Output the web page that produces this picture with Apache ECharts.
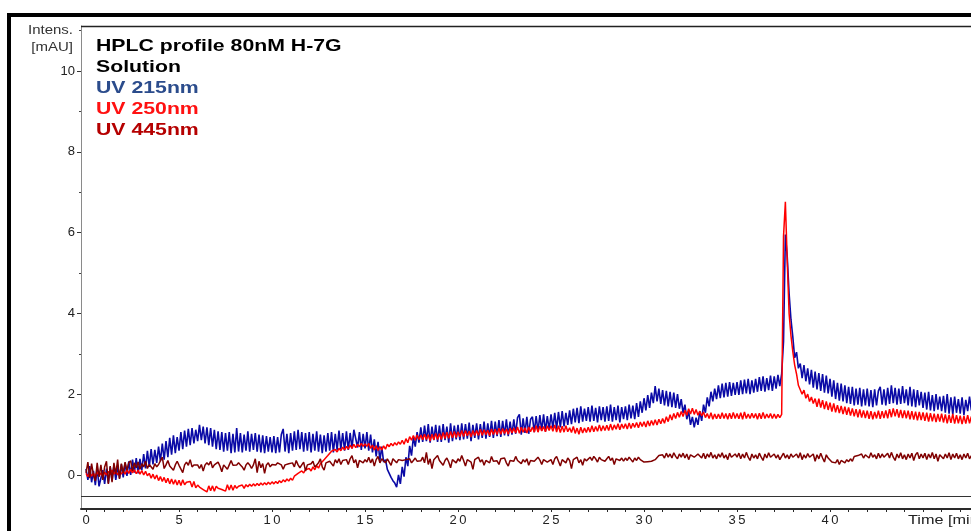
<!DOCTYPE html>
<html>
<head>
<meta charset="utf-8">
<script src="https://cdn.jsdelivr.net/npm/echarts@6/dist/echarts.min.js"></script>
<style>
  html, body { margin: 0; padding: 0; background: #fff; }
  #chart { width: 971px; height: 531px; }
</style>
</head>
<body>
<div id="chart"></div>
<script>
// Detector readings: one sample every 0.1 min starting at 0 min.
const T0 = 0;
const DT = 0.1;

// UV 215nm trace [mAU], one row per minute
const uv215 = [
  0.15, -0.12, 0.22, -0.18, 0.1, -0.25, 0.18, -0.28, -0.32, 0.12,
  -0.22, 0.16, -0.2, 0.2, -0.14, 0.24, -0.12, 0.22, -0.08, 0.26,
  -0.06, 0.3, -0.02, 0.34, 0.0, 0.38, 0.06, 0.42, 0.04, 0.4,
  0.12, 0.52, 0.16, 0.6, 0.2, 0.64, 0.26, 0.62, 0.3, 0.7,
  0.34, 0.78, 0.38, 0.84, 0.44, 0.92, 0.5, 0.98, 0.54, 0.94,
  0.6, 1.06, 0.64, 1.1, 0.7, 1.14, 0.74, 1.16, 0.78, 1.12,
  0.84, 1.24, 0.86, 1.2, 0.78, 1.18, 0.74, 1.16, 0.7, 1.12,
  0.64, 1.08, 0.62, 1.06, 0.58, 1.04, 0.6, 1.06, 0.54, 1.02,
  0.56, 1.16, 0.58, 1.04, 0.56, 1.0, 0.6, 1.08, 0.58, 1.02,
  0.62, 1.04, 0.58, 1.0, 0.56, 0.98, 0.54, 0.96, 0.58, 0.94,
  0.56, 0.96, 0.54, 0.94, 0.56, 1.0, 1.14, 0.58, 1.02, 0.54,
  1.04, 0.6, 1.08, 0.62, 1.12, 0.64, 1.06, 0.58, 1.04, 0.6,
  1.06, 0.56, 1.02, 0.6, 1.08, 0.58, 1.0, 0.54, 0.98, 0.58,
  1.04, 0.6, 1.06, 0.56, 1.02, 0.62, 1.1, 0.64, 1.04, 0.6,
  1.08, 0.62, 1.04, 0.66, 1.12, 1.16, 0.68, 1.06, 0.62, 1.02,
  0.66, 1.06, 0.6, 1.0, 0.56, 0.88, 0.46, 0.82, 0.36, 0.7,
  0.32, 0.38, 0.14, 0.14, -0.06, -0.14, -0.2, -0.3, 0.0, -0.22,
  0.2, -0.04, 0.44, 0.22, 0.72, 0.48, 0.94, 0.7, 1.06, 0.8,
  1.18, 0.82, 1.22, 0.84, 1.26, 0.8, 1.2, 0.86, 1.24, 0.82,
  1.22, 0.82, 1.26, 0.86, 1.2, 0.8, 1.28, 0.84, 1.22, 0.88,
  1.24, 0.86, 1.28, 0.88, 1.26, 0.9, 1.3, 0.84, 1.24, 0.92,
  1.28, 0.88, 1.26, 0.92, 1.32, 0.9, 1.28, 0.94, 1.34, 0.92,
  1.32, 0.96, 1.36, 0.94, 1.34, 0.98, 1.38, 0.96, 1.32, 1.0,
  1.38, 1.02, 1.42, 1.5, 1.0, 1.4, 1.04, 1.44, 1.02, 1.38,
  1.44, 1.06, 1.46, 1.08, 1.48, 1.1, 1.5, 1.08, 1.46, 1.12,
  1.5, 1.16, 1.54, 1.14, 1.56, 1.18, 1.58, 1.2, 1.54, 1.24,
  1.6, 1.26, 1.64, 1.3, 1.66, 1.28, 1.7, 1.32, 1.64, 1.34,
  1.68, 1.32, 1.72, 1.34, 1.66, 1.3, 1.7, 1.36, 1.68, 1.32,
  1.7, 1.34, 1.74, 1.32, 1.68, 1.36, 1.72, 1.3, 1.68, 1.38,
  1.7, 1.36, 1.74, 1.4, 1.72, 1.38, 1.78, 1.44, 1.82, 1.54,
  1.9, 1.6, 1.98, 1.66, 2.04, 1.78, 2.2, 1.82, 2.14, 1.76,
  2.1, 1.72, 2.08, 1.7, 2.06, 1.68, 2.04, 1.66, 2.0, 1.64,
  1.88, 1.54, 1.74, 1.38, 1.58, 1.24, 1.44, 1.18, 1.42, 1.24,
  1.58, 1.34, 1.74, 1.54, 1.92, 1.7, 2.06, 1.82, 2.14, 1.88,
  2.22, 1.9, 2.26, 1.92, 2.28, 1.94, 2.3, 1.96, 2.28, 1.98,
  2.3, 1.98, 2.34, 2.0, 2.36, 2.02, 2.38, 2.0, 2.34, 2.04,
  2.38, 2.06, 2.42, 2.08, 2.44, 2.06, 2.4, 2.1, 2.46, 2.08,
  2.44, 2.14, 2.48, 2.2, 2.5, 3.3, 5.95, 5.4, 4.5, 3.85,
  3.42, 2.9, 3.04, 2.64, 2.76, 2.4, 2.72, 2.32, 2.64, 2.24,
  2.6, 2.16, 2.56, 2.12, 2.52, 2.08, 2.5, 2.04, 2.46, 2.02,
  2.38, 1.94, 2.34, 1.88, 2.28, 1.84, 2.26, 1.82, 2.22, 1.78,
  2.18, 1.76, 2.18, 1.72, 2.14, 1.74, 2.16, 1.7, 2.12, 1.72,
  2.14, 1.7, 2.1, 1.68, 2.12, 1.72, 2.08, 2.18, 1.74, 2.12,
  1.72, 2.16, 1.76, 2.22, 1.78, 2.16, 1.74, 2.14, 1.76, 2.2,
  1.78, 2.12, 1.72, 2.18, 1.7, 2.12, 1.68, 2.1, 1.72, 2.06,
  1.66, 2.04, 1.62, 2.06, 1.6, 1.98, 1.58, 2.0, 1.62, 1.94,
  1.58, 1.96, 1.54, 2.0, 1.52, 1.92, 1.5, 1.94, 1.54, 1.88,
  1.52, 1.92, 1.48, 1.86, 1.58, 1.94, 1.6
];

// UV 250nm trace [mAU]
const uv250 = [
  0.04, -0.04, 0.06, -0.03, 0.05, -0.06, 0.08, -0.02, 0.05, -0.04,
  0.07, 0.0, 0.09, 0.01, 0.12, 0.02, 0.1, 0.0, 0.09, 0.02,
  0.1, 0.02, 0.13, 0.04, 0.14, 0.05, 0.13, 0.03, 0.12, 0.02,
  0.11, 0.0, 0.09, -0.02, 0.04, -0.08, 0.02, -0.1, 0.0, -0.14,
  -0.04, -0.16, -0.06, -0.19, -0.08, -0.22, -0.1, -0.23, -0.12, -0.25,
  -0.13, -0.26, -0.12, -0.24, -0.18, -0.22, -0.16, -0.3, -0.16, -0.32,
  -0.25, -0.3, -0.3, -0.36, -0.32, -0.42, -0.27, -0.39, -0.27, -0.4,
  -0.28, -0.33, -0.3, -0.36, -0.32, -0.4, -0.24, -0.37, -0.25, -0.38,
  -0.26, -0.33, -0.28, -0.3, -0.25, -0.33, -0.24, -0.29, -0.23, -0.28,
  -0.22, -0.27, -0.21, -0.26, -0.2, -0.25, -0.19, -0.24, -0.18, -0.23,
  -0.17, -0.22, -0.16, -0.21, -0.14, -0.19, -0.12, -0.17, -0.1, -0.15,
  -0.08, -0.13, -0.03, -0.07, 0.04, 0.0, 0.1, 0.05, 0.13, 0.09,
  0.16, 0.1, 0.2, 0.13, 0.23, 0.17, 0.28, 0.25, 0.38, 0.36,
  0.48, 0.46, 0.59, 0.55, 0.63, 0.57, 0.66, 0.6, 0.69, 0.62,
  0.71, 0.64, 0.74, 0.66, 0.76, 0.68, 0.76, 0.7, 0.78, 0.71,
  0.77, 0.71, 0.78, 0.66, 0.74, 0.62, 0.72, 0.61, 0.7, 0.62,
  0.72, 0.64, 0.76, 0.7, 0.78, 0.72, 0.8, 0.74, 0.82, 0.76,
  0.86, 0.76, 0.9, 0.8, 0.95, 0.86, 0.98, 0.86, 0.99, 0.88,
  0.99, 0.87, 1.01, 0.88, 1.0, 0.84, 1.01, 0.87, 1.03, 0.88,
  1.02, 0.88, 1.05, 0.9, 1.06, 0.91, 1.08, 0.92, 1.08, 0.93,
  1.07, 0.95, 1.1, 0.95, 1.1, 0.97, 1.08, 0.94, 1.1, 0.98,
  1.1, 0.98, 1.13, 0.98, 1.12, 1.0, 1.11, 0.97, 1.14, 1.0,
  1.13, 1.0, 1.16, 1.01, 1.15, 1.03, 1.14, 1.01, 1.16, 1.04,
  1.16, 1.04, 1.19, 1.03, 1.18, 1.06, 1.17, 1.04, 1.19, 1.07,
  1.19, 1.06, 1.22, 1.06, 1.21, 1.09, 1.2, 1.07, 1.22, 1.1,
  1.22, 1.08, 1.24, 1.06, 1.22, 1.05, 1.21, 1.06, 1.22, 1.07,
  1.17, 1.05, 1.2, 1.03, 1.16, 1.01, 1.18, 1.04, 1.16, 1.05,
  1.18, 1.06, 1.22, 1.07, 1.2, 1.08, 1.24, 1.09, 1.22, 1.1,
  1.23, 1.1, 1.26, 1.11, 1.24, 1.13, 1.27, 1.12, 1.26, 1.15,
  1.27, 1.14, 1.29, 1.15, 1.28, 1.18, 1.3, 1.17, 1.31, 1.2,
  1.32, 1.19, 1.34, 1.21, 1.35, 1.23, 1.37, 1.24, 1.38, 1.27,
  1.4, 1.28, 1.44, 1.32, 1.49, 1.36, 1.52, 1.4, 1.55, 1.43,
  1.57, 1.45, 1.6, 1.48, 1.64, 1.51, 1.65, 1.5, 1.62, 1.48,
  1.58, 1.46, 1.56, 1.42, 1.52, 1.4, 1.54, 1.38, 1.51, 1.39,
  1.51, 1.39, 1.54, 1.4, 1.52, 1.38, 1.53, 1.39, 1.55, 1.4,
  1.52, 1.39, 1.54, 1.38, 1.56, 1.4, 1.51, 1.4, 1.53, 1.41,
  1.52, 1.38, 1.53, 1.39, 1.55, 1.4, 1.51, 1.41, 1.52, 1.4,
  1.51, 1.4, 1.5, 1.42, 1.5, 5.9, 6.76, 5.3, 4.0, 3.45,
  3.05, 2.72, 2.5, 2.22, 2.24, 2.0, 2.1, 1.9, 2.0, 1.82,
  1.93, 1.77, 1.89, 1.69, 1.89, 1.67, 1.85, 1.63, 1.82, 1.61,
  1.79, 1.57, 1.77, 1.55, 1.73, 1.53, 1.71, 1.51, 1.69, 1.49,
  1.67, 1.47, 1.65, 1.45, 1.63, 1.43, 1.62, 1.42, 1.6, 1.41,
  1.59, 1.39, 1.58, 1.38, 1.56, 1.4, 1.59, 1.39, 1.58, 1.41,
  1.6, 1.4, 1.63, 1.43, 1.65, 1.45, 1.63, 1.42, 1.61, 1.41,
  1.6, 1.4, 1.59, 1.38, 1.58, 1.37, 1.57, 1.35, 1.56, 1.36,
  1.55, 1.34, 1.54, 1.32, 1.53, 1.33, 1.52, 1.31, 1.51, 1.32,
  1.52, 1.3, 1.5, 1.28, 1.49, 1.29, 1.51, 1.27, 1.48, 1.28,
  1.47, 1.26, 1.46, 1.27, 1.48, 1.28, 1.45
];

// UV 445nm trace [mAU]
const uv445 = [
  0.05, 0.32, -0.08, 0.28, 0.0, -0.15, 0.3, -0.05, 0.25, -0.12,
  0.2, 0.34, -0.22, 0.22, -0.18, 0.3, 0.02, 0.38, -0.1, 0.28,
  0.05, 0.32, 0.12, 0.3, 0.35, 0.1, 0.3, 0.18, 0.32, 0.14,
  0.28, 0.2, 0.34, 0.16, 0.26, 0.3, 0.14, 0.28, 0.2, 0.26,
  0.24, 0.44, 0.16, 0.25, 0.36, 0.22, 0.26, 0.12, 0.25, 0.34,
  0.24, 0.26, 0.06, 0.25, 0.32, 0.24, 0.38, 0.2, 0.25, 0.28,
  0.25, 0.16, 0.26, 0.1, 0.25, 0.3, 0.25, 0.34, 0.18, 0.25,
  0.26, 0.32, 0.22, 0.08, 0.25, 0.28, 0.14, 0.25, 0.36, 0.24,
  0.22, 0.25, 0.3, 0.25, 0.2, 0.12, 0.25, 0.3, 0.25, 0.16,
  0.25, 0.4, 0.06, 0.34, 0.18, 0.28, 0.04, 0.25, 0.3, 0.2,
  0.26, 0.22, 0.25, 0.3, 0.26, 0.25, 0.14, 0.25, 0.22, 0.28,
  0.25, 0.3, 0.2, 0.36, 0.25, 0.18, 0.25, 0.32, 0.1, 0.25,
  0.22, 0.28, 0.34, 0.2, 0.25, 0.3, 0.4, 0.2, 0.12, 0.3,
  0.28, 0.34, 0.36, 0.22, 0.38, 0.3, 0.4, 0.26, 0.36, 0.32,
  0.38, 0.26, 0.4, 0.48, 0.3, 0.38, 0.18, 0.36, 0.4, 0.3,
  0.38, 0.32, 0.44, 0.3, 0.4, 0.22, 0.38, 0.46, 0.3, 0.4,
  0.36, 0.3, 0.4, 0.36, 0.24, 0.4, 0.36, 0.3, 0.38, 0.42,
  0.36, 0.32, 0.38, 0.36, 0.4, 0.3, 0.36, 0.42, 0.34, 0.37,
  0.35, 0.44, 0.3, 0.56, 0.26, 0.4, 0.16, 0.38, 0.34, 0.48,
  0.36, 0.4, 0.24, 0.36, 0.42, 0.32, 0.18, 0.38, 0.36, 0.3,
  0.4, 0.34, 0.48, 0.36, 0.22, 0.38, 0.36, 0.32, 0.14, 0.38,
  0.34, 0.44, 0.32, 0.38, 0.24, 0.36, 0.4, 0.3, 0.46, 0.34,
  0.38, 0.35, 0.26, 0.4, 0.36, 0.42, 0.3, 0.22, 0.36, 0.4,
  0.34, 0.46, 0.36, 0.4, 0.28, 0.38, 0.32, 0.4, 0.24, 0.36,
  0.4, 0.34, 0.3, 0.44, 0.37, 0.26, 0.38, 0.4, 0.32, 0.36,
  0.38, 0.26, 0.4, 0.46, 0.34, 0.22, 0.38, 0.36, 0.3, 0.42,
  0.36, 0.16, 0.38, 0.34, 0.44, 0.3, 0.38, 0.24, 0.4, 0.35,
  0.38, 0.44, 0.36, 0.46, 0.4, 0.32, 0.44, 0.38, 0.42, 0.34,
  0.4, 0.46, 0.36, 0.42, 0.26, 0.4, 0.44, 0.36, 0.42, 0.34,
  0.42, 0.36, 0.44, 0.38, 0.32, 0.42, 0.36, 0.44, 0.38, 0.4,
  0.32, 0.36, 0.33, 0.37, 0.34, 0.33, 0.38, 0.42, 0.48, 0.44,
  0.5, 0.42, 0.54, 0.44, 0.52, 0.42, 0.55, 0.46, 0.4, 0.52,
  0.44, 0.54, 0.42, 0.52, 0.38, 0.5, 0.54, 0.44, 0.4, 0.52,
  0.5, 0.42, 0.54, 0.4, 0.52, 0.44, 0.56, 0.42, 0.5, 0.4,
  0.52, 0.44, 0.55, 0.42, 0.5, 0.38, 0.54, 0.44, 0.4, 0.52,
  0.44, 0.54, 0.4, 0.52, 0.42, 0.56, 0.44, 0.36, 0.52, 0.42,
  0.5, 0.4, 0.54, 0.44, 0.36, 0.52, 0.42, 0.55, 0.44, 0.4,
  0.52, 0.42, 0.5, 0.38, 0.46, 0.54, 0.42, 0.5, 0.4, 0.52,
  0.44, 0.4, 0.52, 0.42, 0.55, 0.38, 0.5, 0.42, 0.53, 0.44,
  0.4, 0.52, 0.34, 0.5, 0.4, 0.54, 0.42, 0.32, 0.5, 0.42,
  0.38, 0.32, 0.36, 0.3, 0.38, 0.26, 0.36, 0.32, 0.3, 0.38,
  0.33, 0.4, 0.34, 0.46, 0.42, 0.48, 0.44, 0.52, 0.42, 0.5,
  0.52, 0.42, 0.55, 0.44, 0.5, 0.4, 0.54, 0.42, 0.52, 0.44,
  0.4, 0.54, 0.42, 0.56, 0.44, 0.36, 0.52, 0.42, 0.55, 0.4,
  0.5, 0.38, 0.52, 0.42, 0.54, 0.36, 0.5, 0.56, 0.4, 0.52,
  0.42, 0.54, 0.38, 0.52, 0.42, 0.56, 0.4, 0.52, 0.34, 0.5,
  0.54, 0.4, 0.52, 0.42, 0.55, 0.38, 0.52, 0.42, 0.54, 0.4,
  0.5, 0.38, 0.52, 0.42, 0.54, 0.4, 0.48
];

// Axis ticks and labels
const xLabelValues = [0, 5, 10, 15, 20, 25, 30, 35, 40];
const xTickValues = [0,1,2,3,4,5,6,7,8,9,10,11,12,13,14,15,16,17,18,19,20,21,22,23,24,25,26,27,28,29,30,31,32,33,34,35,36,37,38,39,40,41,42,43,44,45,46,47];
const yLabelValues = [0, 2, 4, 6, 8, 10];
const yMinorValues = [1, 3, 5, 7, 9, 11];

const traceNames = ['UV 215nm', 'UV 250nm', 'UV 445nm'];
const traceColors = ['#0a0aa6', '#ff0000', '#800000'];
const traceWidths = [1.6, 1.5, 1.5];
const legendColors = ['#2b4c8c', '#ff1111', '#b50000'];

const X_MIN = -0.27, X_MAX = 47.58;
const Y_MIN = -0.842, Y_MAX = 11.114;

function toPairs(values) {
  return values.map((v, i) => [Number((T0 + i * DT).toFixed(1)), v]);
}

const FONT = 'Liberation Sans, Arial, sans-serif';
const WIDE = 1.25; // horizontal stretch of the annotation lettering

function label(text, x, y, font, fill, align) {
  return {
    type: 'text', z: 60, silent: true,
    x: x, y: y, scaleX: WIDE, scaleY: 1,
    style: { text: text, fill: fill, font: font, textAlign: align || 'left', textVerticalAlign: 'middle' }
  };
}

const chart = echarts.init(document.getElementById('chart'), null, { renderer: 'canvas' });

const option = {
  animation: false,
  backgroundColor: '#ffffff',
  grid: { left: 81, top: 26, right: 0, bottom: 22, containLabel: false },
  xAxis: {
    type: 'value',
    min: X_MIN,
    max: X_MAX,
    splitLine: { show: false },
    axisLine: { show: true, onZero: false, lineStyle: { color: '#2a2a2a', width: 2 } },
    axisTick: { show: true, length: 3, customValues: xTickValues, lineStyle: { color: '#2a2a2a', width: 1 } },
    axisLabel: {
      customValues: xLabelValues, margin: 5,
      color: '#222', fontSize: 13, fontFamily: FONT,
      formatter: v => String(v).split('').join('\u2009')
    }
  },
  yAxis: [
    {
      type: 'value',
      min: Y_MIN,
      max: Y_MAX,
      splitLine: { show: false },
      axisLine: { show: true, onZero: false, lineStyle: { color: '#8a8a8a', width: 1 } },
      axisTick: { show: true, length: 4, customValues: yLabelValues, lineStyle: { color: '#333', width: 1 } },
      axisLabel: {
        customValues: yLabelValues, margin: 6,
        color: '#222', fontSize: 13, fontFamily: FONT
      }
    },
    {
      type: 'value',
      min: Y_MIN,
      max: Y_MAX,
      position: 'left',
      splitLine: { show: false },
      axisLine: { show: false, onZero: false },
      axisTick: { show: true, length: 2, customValues: yMinorValues, lineStyle: { color: '#444', width: 1 } },
      axisLabel: { show: false }
    }
  ],
  series: [uv215, uv250, uv445].map((vals, k) => ({
    name: traceNames[k],
    type: 'line',
    xAxisIndex: 0,
    yAxisIndex: 0,
    data: toPairs(vals),
    showSymbol: false,
    symbol: 'none',
    sampling: null,
    lineStyle: { color: traceColors[k], width: traceWidths[k] },
    z: 2 + k
  })),
  graphic: [
    // outer frame
    { type: 'polyline', z: 100, silent: true,
      shape: { points: [[9, 531], [9, 15], [971, 15]] },
      style: { stroke: '#000', lineWidth: 4, fill: null } },
    // top edge of the plot box
    { type: 'line', z: 50, silent: true,
      shape: { x1: 81, y1: 26.5, x2: 971, y2: 26.5 },
      style: { stroke: '#222', lineWidth: 1.5 } },
    // baseline rule above the time axis
    { type: 'line', z: 50, silent: true,
      shape: { x1: 81, y1: 496.5, x2: 971, y2: 496.5 },
      style: { stroke: '#333', lineWidth: 1.2 } },
    label('Intens.', 73, 31, '12px ' + FONT, '#333', 'right'),
    label('[mAU]', 73, 48, '12px ' + FONT, '#333', 'right'),
    label('Time [min]', 908, 520, '13px ' + FONT, '#222', 'left'),
    label('HPLC profile 80nM H-7G', 96, 46, 'bold 17px ' + FONT, '#000'),
    label('Solution', 96, 67, 'bold 17px ' + FONT, '#000'),
    label(traceNames[0], 96, 88, 'bold 17px ' + FONT, legendColors[0]),
    label(traceNames[1], 96, 109, 'bold 17px ' + FONT, legendColors[1]),
    label(traceNames[2], 96, 130, 'bold 17px ' + FONT, legendColors[2])
  ]
};

chart.setOption(option);
</script>
</body>
</html>
